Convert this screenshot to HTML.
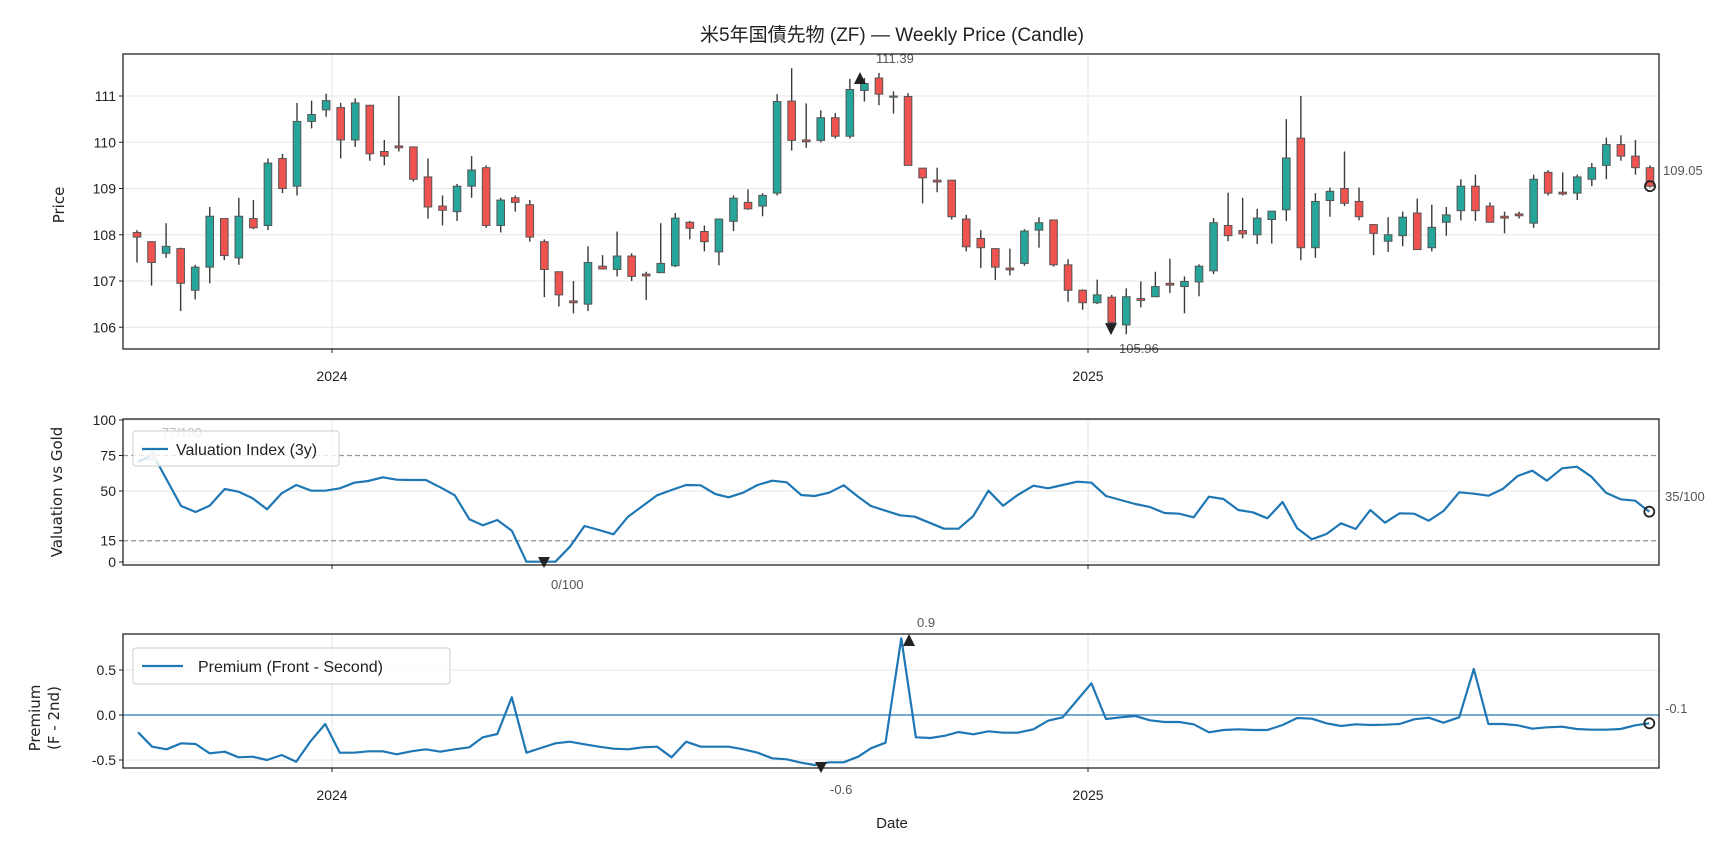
<!DOCTYPE html>
<html><head><meta charset="utf-8">
<style>
html,body{margin:0;padding:0;background:#fff;}
svg{display:block;}
text{font-family:"Liberation Sans","Noto Sans CJK JP",sans-serif;}
</style></head>
<body>
<svg id="s" width="1728" height="849" xmlns="http://www.w3.org/2000/svg"></svg>
<script>
const S=document.getElementById('s');
let h='';
const DV="'DejaVu Sans',sans-serif";
function L(x1,y1,x2,y2,c,w,extra){h+=`<line x1="${x1}" y1="${y1}" x2="${x2}" y2="${y2}" stroke="${c}" stroke-width="${w}" ${extra||''}/>`;}
function T(x,y,t,o){o=o||{};h+=`<text x="${x}" y="${y}" font-size="${o.fs||14}" fill="${o.c||'#222'}" text-anchor="${o.a||'start'}" ${o.tr?`transform="${o.tr}"`:''} ${o.ff?`style="font-family:${o.ff}"`:''}>${t}</text>`;}
const X0=123,X1=1659;
const G='#e5e5e5';
// ---------- panel 1 ----------
const P1T=54,P1B=349;
function py(p){return 96+(111-p)*46.25;}
[106,107,108,109,110,111].forEach(v=>{L(X0,py(v),X1,py(v),G,1);L(X0-4,py(v),X0,py(v),'#222',1);T(X0-7,py(v)+5,v,{a:'end',fs:14});});
[332,1088].forEach(x=>{L(x,P1T,x,P1B,G,1);L(x,P1B,x,P1B+4,'#222',1);});
T(332,381,'2024',{a:'middle',fs:14});T(1088,381,'2025',{a:'middle',fs:14});
T(64,205,'Price',{a:'middle',fs:15,tr:'rotate(-90 64 205)',ff:DV});
const C=[
[108.05,107.95,108.1,107.4],[107.85,107.4,107.85,106.9],[107.6,107.75,108.25,107.5],[107.7,106.95,107.72,106.35],[106.8,107.3,107.35,106.6],
[107.3,108.4,108.6,106.95],[108.35,107.55,108.35,107.45],[107.5,108.4,108.8,107.35],[108.35,108.15,108.75,108.12],[108.2,109.55,109.65,108.1],
[109.65,109.0,109.75,108.9],[109.05,110.45,110.85,108.85],[110.45,110.6,110.9,110.3],[110.7,110.9,111.05,110.55],[110.75,110.05,110.85,109.65],
[110.05,110.85,110.95,109.9],[110.8,109.75,110.8,109.6],[109.8,109.7,110.05,109.5],[109.92,109.88,111.0,109.8],[109.9,109.2,109.9,109.15],
[109.25,108.6,109.65,108.35],[108.62,108.53,108.85,108.2],[108.5,109.05,109.1,108.3],[109.05,109.4,109.7,108.8],[109.45,108.2,109.5,108.15],
[108.2,108.75,108.8,108.05],[108.8,108.7,108.85,108.5],[108.65,107.95,108.75,107.85],[107.85,107.25,107.9,106.65],[107.2,106.7,107.2,106.45],
[106.57,106.53,107.0,106.3],[106.5,107.4,107.75,106.35],[107.32,107.26,107.56,107.25],[107.25,107.54,108.07,107.1],[107.54,107.1,107.6,107.0],
[107.15,107.11,107.2,106.59],[107.18,107.38,108.25,107.18],[107.33,108.36,108.47,107.3],[108.27,108.14,108.3,107.9],[108.07,107.85,108.2,107.64],
[107.63,108.34,108.34,107.34],[108.29,108.79,108.85,108.08],[108.7,108.56,108.98,108.54],[108.62,108.85,108.9,108.4],[108.9,110.88,111.04,108.85],
[110.89,110.04,111.6,109.82],[110.05,110.01,110.84,109.88],[110.04,110.53,110.69,110.0],[110.53,110.13,110.63,110.08],[110.13,111.14,111.37,110.08],
[111.12,111.27,111.39,110.88],[111.39,111.04,111.5,110.8],[110.98,111.0,111.1,110.62],[110.99,109.5,111.06,109.5],[109.44,109.23,109.44,108.68],
[109.18,109.14,109.45,108.92],[109.18,108.39,109.18,108.33],[108.34,107.74,108.43,107.64],[107.92,107.72,108.1,107.28],[107.7,107.3,107.7,107.02],
[107.28,107.24,107.7,107.12],[107.38,108.08,108.12,107.33],[108.1,108.26,108.38,107.72],[108.32,107.35,108.32,107.31],[107.35,106.8,107.47,106.55],
[106.8,106.53,106.82,106.38],[106.53,106.7,107.03,106.5],[106.65,106.1,106.7,105.96],[106.05,106.66,106.84,105.85],[106.62,106.58,106.99,106.43],
[106.66,106.88,107.2,106.66],[106.95,106.91,107.48,106.74],[106.88,106.99,107.1,106.3],[106.98,107.32,107.36,106.67],[107.22,108.26,108.36,107.15],
[108.2,107.98,108.91,107.86],[108.09,108.02,108.8,107.92],[108.0,108.36,108.56,107.8],[108.33,108.51,108.51,107.81],[108.54,109.66,110.5,108.3],
[110.09,107.72,111.0,107.45],[107.72,108.72,108.9,107.5],[108.74,108.94,109.02,108.39],[109.0,108.68,109.8,108.62],[108.72,108.39,109.02,108.31],
[108.22,108.03,108.22,107.56],[107.86,108.0,108.38,107.63],[107.98,108.38,108.5,107.75],[108.47,107.68,108.78,107.68],[107.72,108.16,108.65,107.64],
[108.27,108.43,108.6,107.98],[108.52,109.05,109.2,108.31],[109.05,108.52,109.3,108.3],[108.62,108.27,108.7,108.27],[108.4,108.36,108.5,108.03],
[108.45,108.41,108.5,108.35],[108.25,109.2,109.3,108.15],[109.35,108.9,109.4,108.85],[108.92,108.88,109.35,108.85],[108.9,109.25,109.3,108.75],
[109.2,109.45,109.55,109.05],[109.5,109.95,110.1,109.2],[109.95,109.7,110.15,109.6],[109.7,109.45,110.05,109.3],[109.45,109.05,109.5,109.02]];
const dx=(1650-137)/104;
C.forEach((c,i)=>{const x=137+i*dx;const [o,cl,hi,lo]=c;
 L(x,py(hi),x,py(lo),'#3a3a3a',1.4);
 const up=cl>=o;const t=py(Math.max(o,cl)),b=py(Math.min(o,cl));
 h+=`<rect x="${x-3.8}" y="${t}" width="7.6" height="${Math.max(b-t,1.2)}" fill="${up?'#26a69a':'#ef5350'}" stroke="#555" stroke-width="1"/>`;});
h+=`<polygon points="854,${py(111.39)+6} 866,${py(111.39)+6} 860,${py(111.39)-6}" fill="#222"/>`;
h+=`<rect x="874" y="50" width="46" height="16" fill="#fff"/>`;T(876,63,'111.39',{fs:13,c:'#555'});
h+=`<polygon points="1105,${py(105.96)-6} 1117,${py(105.96)-6} 1111,${py(105.96)+6}" fill="#222"/>`;
h+=`<rect x="1117" y="340" width="46" height="16" fill="#fff"/>`;T(1119,353,'105.96',{fs:13,c:'#555'});
h+=`<circle cx="1650" cy="${py(109.05)}" r="5" fill="none" stroke="#222" stroke-width="1.8"/>`;
T(1663,175,'109.05',{fs:13,c:'#555'});
h+=`<rect x="${X0}" y="${P1T}" width="${X1-X0}" height="${P1B-P1T}" fill="none" stroke="#222" stroke-width="1.3"/>`;
T(892,41,'米5年国債先物 (ZF) — Weekly Price (Candle)',{a:'middle',fs:19});
// ---------- panel 2 ----------
const P2T=419,P2B=565;
function vy(v){return 562-(v)*1.42;}
[0,50,100].forEach(v=>L(X0,vy(v),X1,vy(v),G,1));
[332,1088].forEach(x=>{L(x,P2T,x,P2B,G,1);L(x,P2B,x,P2B+4,'#222',1);});
[100,75,50,15,0].forEach(v=>{L(X0-4,vy(v),X0,vy(v),'#222',1);T(X0-7,vy(v)+5,v,{a:'end',fs:14});});
L(X0,vy(75),X1,vy(75),'#999',1.3,'stroke-dasharray="5,3"');L(X0,vy(15),X1,vy(15),'#999',1.3,'stroke-dasharray="5,3"');
T(62,492,'Valuation vs Gold',{a:'middle',fs:15,tr:'rotate(-90 62 492)',ff:DV});
const va=[[245,155],[272,135],[322,288],[348,306],[373,287],[400,237],[425,245],[450,265],[476,298],[502,250],[528,225],[555,242],[580,242],[606,235],[632,218],[657,213],[683,202],[708,209],[734,210],[760,210],[786,232],[812,256],[838,328],[862,346],[888,330],[914,362],[940,455],[966,455],[992,455],[1018,410],[1044,348],[1070,360],[1096,373],[1122,320],[1148,288],[1174,256],[1200,240],[1226,225],[1252,226],[1278,252],[1302,262],[1328,248],[1354,225],[1380,212],[1406,217],[1432,255],[1456,258],[1482,248],[1508,226],[1534,260]].map(p=>[123+(p[0]-218)/1.79,410+p[1]/3]);
const vb=[[26,288],[52,302],[78,316],[104,320],[130,338],[156,356],[182,356],[208,318],[235,242],[261,287],[287,255],[315,227],[341,235],[367,225],[393,215],[418,218],[444,258],[470,270],[496,282],[522,291],[548,309],[574,311],[600,322],[627,260],[653,267],[679,300],[705,307],[731,325],[758,276],[784,355],[810,388],[836,372],[862,340],[888,357],[914,300],[940,338],[966,310],[992,311],[1018,332],[1044,303],[1072,247],[1098,251],[1124,257],[1150,236],[1176,198],[1202,182],[1228,212],[1255,175],[1281,170],[1307,200],[1333,248],[1359,268],[1385,272],[1410,305]].map(p=>[1088+(p[0]-412)/1.778,410+p[1]/3]);
const V=va.concat(vb);
h+=`<polyline points="${V.map(p=>p[0].toFixed(1)+','+p[1].toFixed(1)).join(' ')}" fill="none" stroke="#1f77b4" stroke-width="2.2" stroke-linejoin="round"/>`;
h+=`<polygon points="538,557 550,557 544,568" fill="#222"/>`;T(551,589,'0/100',{fs:13,c:'#555'});
h+=`<circle cx="${V[V.length-1][0]}" cy="${V[V.length-1][1]}" r="5" fill="none" stroke="#222" stroke-width="1.8"/>`;
T(1665,501,'35/100',{fs:13,c:'#555'});
h+=`<polygon points="147,461 159,461 153,449" fill="#ccc"/>`;T(162,437,'77/100',{fs:13,c:'#bbb'});
h+=`<rect x="133" y="431" width="206" height="35" rx="3" fill="#fff" fill-opacity="0.8" stroke="#ccc" stroke-width="1"/>`;
L(142,449,168,449,'#1f77b4',2.2);T(176,455,'Valuation Index (3y)',{fs:16});
h+=`<rect x="${X0}" y="${P2T}" width="${X1-X0}" height="${P2B-P2T}" fill="none" stroke="#222" stroke-width="1.3"/>`;
// ---------- panel 3 ----------
const P3T=634,P3B=768;
function ry(v){return 715-v*90;}
[0.5,0,-0.5].forEach(v=>{L(X0,ry(v),X1,ry(v),G,1);L(X0-4,ry(v),X0,ry(v),'#222',1);T(X0-7,ry(v)+5,v.toFixed(1),{a:'end',fs:14});});
[332,1088].forEach(x=>{L(x,P3T,x,P3B,G,1);L(x,P3B,x,P3B+4,'#222',1);});
L(X0,ry(0),X1,ry(0),'#1f77b4',1.3);
T(332,800,'2024',{a:'middle',fs:14});T(1088,800,'2025',{a:'middle',fs:14});
T(892,828,'Date',{a:'middle',fs:15});
T(40,718,'Premium',{a:'middle',fs:15,tr:'rotate(-90 40 718)',ff:DV});
T(59,718,'(F - 2nd)',{a:'middle',fs:15,tr:'rotate(-90 59 718)',ff:DV});
const ra=[[245,367],[270,410],[296,418],[322,400],[348,402],[373,430],[400,425],[425,442],[450,440],[476,450],[502,435],[528,455],[553,395],[580,342],[606,428],[632,428],[657,424],[683,424],[708,433],[734,424],[760,418],[786,425],[812,418],[838,412],[862,382],[888,372],[914,262],[940,428],[966,414],[992,400],[1018,395],[1044,403],[1070,410],[1096,416],[1122,418],[1148,412],[1174,410],[1200,442],[1226,395],[1252,410],[1278,410],[1302,410],[1328,418],[1354,428],[1380,445],[1406,448],[1432,458],[1456,465],[1482,457],[1508,457],[1534,440]].map(p=>[123+(p[0]-218)/1.79,610+p[1]/3]);
const rb=[[26,415],[52,398],[80,85],[106,382],[132,384],[158,377],[182,366],[208,373],[235,364],[261,368],[287,368],[315,358],[341,332],[367,322],[393,270],[418,220],[444,327],[470,322],[496,318],[522,331],[548,336],[574,336],[600,343],[627,367],[653,360],[679,358],[705,360],[731,360],[758,345],[784,324],[810,326],[836,340],[862,348],[888,343],[914,345],[940,344],[966,342],[992,328],[1018,323],[1044,338],[1072,322],[1098,177],[1124,342],[1150,342],[1176,346],[1202,356],[1228,352],[1255,350],[1281,357],[1307,359],[1333,359],[1359,357],[1385,346],[1410,340]].map(p=>[1088+(p[0]-412)/1.778,610+p[1]/3]);
const R=ra.concat(rb);
h+=`<polyline points="${R.map(p=>p[0].toFixed(1)+','+p[1].toFixed(1)).join(' ')}" fill="none" stroke="#1f77b4" stroke-width="2.2" stroke-linejoin="round"/>`;
h+=`<polygon points="903,646 915,646 909,634" fill="#222"/>`;T(917,627,'0.9',{fs:13,c:'#555'});
h+=`<polygon points="815,762 827,762 821,773" fill="#222"/>`;T(830,794,'-0.6',{fs:13,c:'#555'});
h+=`<circle cx="${R[R.length-1][0]}" cy="${R[R.length-1][1]}" r="5" fill="none" stroke="#222" stroke-width="1.8"/>`;
T(1665,713,'-0.1',{fs:13,c:'#555'});
h+=`<rect x="133" y="648" width="317" height="36" rx="3" fill="#fff" fill-opacity="0.8" stroke="#ccc" stroke-width="1"/>`;
L(142,666,183,666,'#1f77b4',2.2);T(198,672,'Premium (Front - Second)',{fs:16});
h+=`<rect x="${X0}" y="${P3T}" width="${X1-X0}" height="${P3B-P3T}" fill="none" stroke="#222" stroke-width="1.3"/>`;
S.innerHTML=h;
</script>
</body></html>
